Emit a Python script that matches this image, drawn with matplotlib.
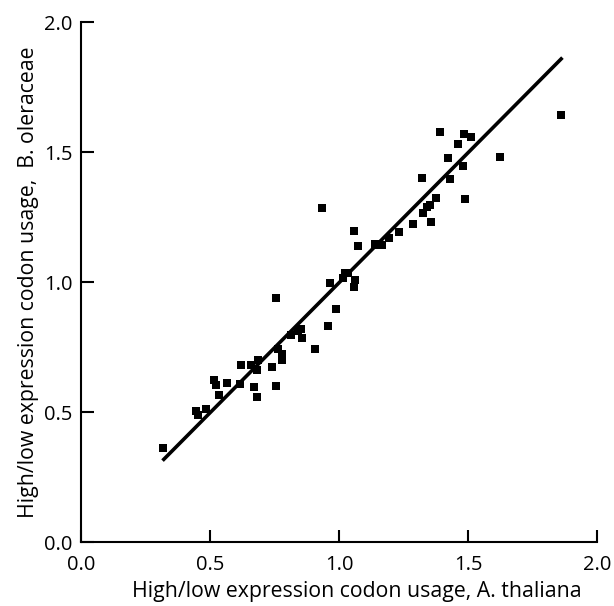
import matplotlib
matplotlib.use("Agg")
import matplotlib.pyplot as plt
import numpy as np

plt.rcParams['font.family'] = ['Open Sans', 'DejaVu Sans']

x_vals = [0.316, 0.444, 0.452, 0.485, 0.514, 0.523, 0.535, 0.566, 0.616, 0.620,
          0.660, 0.672, 0.683, 0.687, 0.684, 0.741, 0.754, 0.754, 0.763, 0.778,
          0.780, 0.815, 0.840, 0.852, 0.856, 0.906, 0.934, 0.957, 0.967, 0.990,
          1.016, 1.025, 1.036, 1.059, 1.062, 1.059, 1.074, 1.139, 1.153, 1.168,
          1.194, 1.232, 1.287, 1.322, 1.326, 1.343, 1.352, 1.355, 1.376, 1.390,
          1.421, 1.430, 1.462, 1.480, 1.484, 1.489, 1.513, 1.624, 1.860]
y_vals = [0.363, 0.503, 0.488, 0.513, 0.622, 0.604, 0.565, 0.610, 0.607, 0.679,
          0.682, 0.598, 0.558, 0.699, 0.662, 0.673, 0.601, 0.939, 0.744, 0.699,
          0.722, 0.796, 0.811, 0.818, 0.783, 0.744, 1.283, 0.832, 0.997, 0.896,
          1.015, 1.034, 1.033, 0.979, 1.006, 1.196, 1.140, 1.146, 1.143, 1.144,
          1.170, 1.193, 1.223, 1.400, 1.266, 1.287, 1.296, 1.231, 1.324, 1.577,
          1.478, 1.396, 1.530, 1.446, 1.570, 1.318, 1.558, 1.481, 1.644]

fit_x = [0.316, 1.866]
fit_slope = 1.0
fit_intercept = -0.003

x_ticks = [0.0, 0.5, 1.0, 1.5, 2.0]
y_ticks = [0.0, 0.5, 1.0, 1.5, 2.0]

fig = plt.figure(figsize=(6.14, 6.06), dpi=100)
ax = fig.add_axes([81/614, 1-542/606, (597-81)/614, (542-22)/606])

fx = np.array(fit_x)
ax.plot(fx, fit_slope*fx + fit_intercept, color='black', lw=2.6, solid_capstyle='butt')
ax.scatter(x_vals, y_vals, marker='s', s=38, color='black', linewidths=0, zorder=3)

ax.set_xlim(0, 2.0)
ax.set_ylim(0, 2.0)
ax.set_xticks(x_ticks)
ax.set_yticks(y_ticks)
ax.set_xticklabels([f"{t:.1f}" for t in x_ticks])
ax.set_yticklabels([f"{t:.1f}" for t in y_ticks])
for s in ['top', 'right']:
    ax.spines[s].set_visible(False)
for s in ['left', 'bottom']:
    ax.spines[s].set_linewidth(1.5)
ax.tick_params(direction='in', length=9, width=1.5, labelsize=14.5)
ax.tick_params(axis='y', pad=6)
ax.tick_params(axis='x', pad=9)
ax.set_xlabel("High/low expression codon usage, A. thaliana", fontsize=15.3, labelpad=5)
ax.xaxis.set_label_coords((357-81)/516, -0.075)
ax.set_ylabel("High/low expression codon usage,  B. oleraceae", fontsize=15.3, labelpad=4)

fig.savefig("out.png", dpi=100)
